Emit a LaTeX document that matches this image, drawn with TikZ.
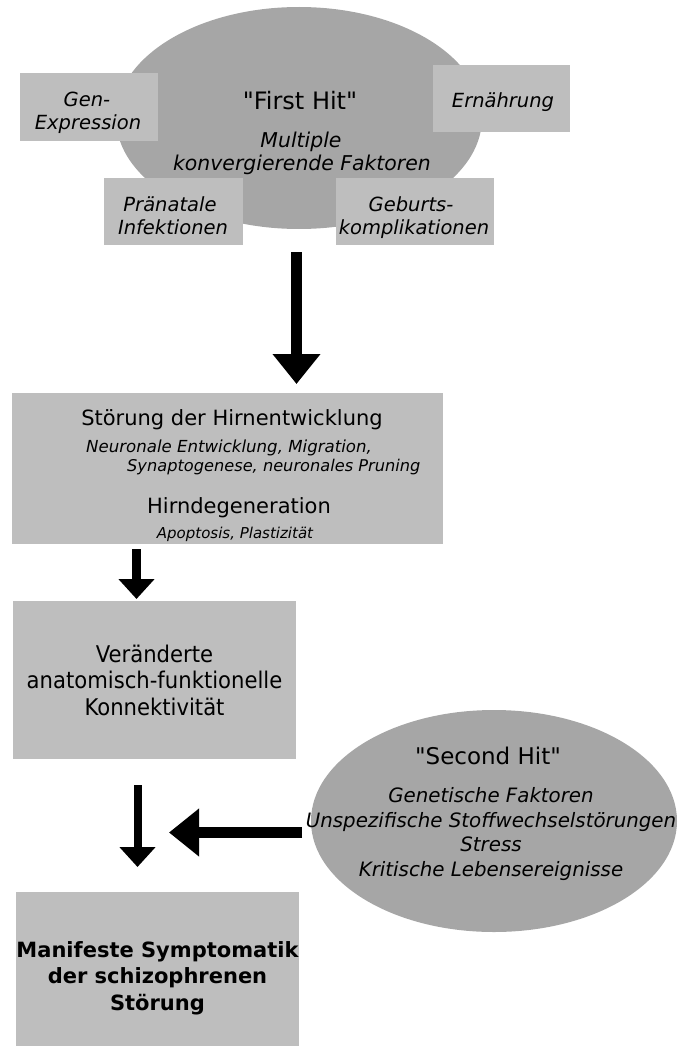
\documentclass[tikz,border=0pt]{standalone}
\usepackage{fontspec}
\setmainfont{DejaVu Sans}
\newfontfamily\narrowfont[FakeStretch=0.92]{DejaVu Sans}
\usetikzlibrary{arrows.meta,shapes.geometric}
\definecolor{boxgray}{RGB}{190,190,190}
\definecolor{hitgray}{RGB}{166,166,166}

\begin{document}
\begin{tikzpicture}[x=1pt, y=-1pt,
  box/.style={fill=boxgray, inner sep=0pt, align=center},
  hit/.style={ellipse, fill=hitgray, inner sep=0pt},
  txt/.style={inner sep=0pt, anchor=base},
  factor/.style={txt, font=\fontsize{19.5}{23}\selectfont\itshape},
  bigarrow/.style={line width=11pt, -{Triangle[length=30pt, width=46pt]}},
  smallarrow/.style={line width=9pt, -{Triangle[length=20pt, width=35pt]}}]
\useasboundingbox (0,0) rectangle (677,1046);
% first hit
\node[hit, minimum width=366pt, minimum height=222pt] (first) at (299,118) {};
\node[box, minimum width=138pt, minimum height=68pt] (genexpr)   at (89,107)      {};
\node[box, minimum width=137pt, minimum height=67pt] (nutrition) at (501.5,98.5)  {};
\node[box, minimum width=139pt, minimum height=67pt] (prenatal)  at (173.5,211.5) {};
\node[box, minimum width=158pt, minimum height=67pt] (birth)     at (415,211.5)   {};
\node[factor] (genexpr1)   at (87,107)  {Gen-};
\node[factor] (genexpr2)   at (88,130)  {Expression};
\node[factor] (nutrition1) at (503,108) {Ernährung};
\node[factor] (prenatal1)  at (170,211) {Pränatale};
\node[factor] (prenatal2)  at (173,234) {Infektionen};
\node[factor] (birth1)     at (411,211) {Geburts-};
\node[factor] (birth2)     at (414,234) {komplikationen};
\node[txt, font=\fontsize{24}{28}\selectfont] (firsttitle) at (300,110) {\textquotedbl First Hit\textquotedbl};
\node[txt, font=\fontsize{20.4}{24}\selectfont\itshape] (firstsub1) at (301,147) {Multiple};
\node[txt, font=\fontsize{20.4}{24}\selectfont\itshape] (firstsub2) at (302,170) {konvergierende Faktoren};
% development
\node[box, minimum width=431pt, minimum height=151pt] (develop) at (227.5,468.5) {};
\node[txt, font=\fontsize{21}{25}\selectfont] (develtitle) at (232,425) {Störung der Hirnentwicklung};
\node[txt, anchor=base west, font=\fontsize{16.6}{20}\selectfont\itshape] (develsub1) at (86,452) {Neuronale Entwicklung, Migration,};
\node[txt, anchor=base west, font=\fontsize{16.2}{20}\selectfont\itshape] (develsub2) at (127,471) {Synaptogenese, neuronales Pruning};
\node[txt, font=\fontsize{21}{25}\selectfont] (degtitle) at (239,513) {Hirndegeneration};
\node[txt, font=\fontsize{15}{18}\selectfont\itshape] (degsub) at (235,538) {Apoptosis, Plastizität};
% connectivity and symptoms
\node[box, minimum width=283pt, minimum height=158pt, font=\narrowfont\fontsize{23}{26.5}\selectfont] (connect) at (154.5,680)
  {Veränderte\\anatomisch-funktionelle\\Konnektivität};
\node[box, minimum width=283pt, minimum height=172pt, font=\fontsize{21}{26.5}\selectfont\bfseries] (symptom) at (157.5,978)
  {Manifeste Symptomatik\\der schizophrenen\\Störung};
% second hit
\node[hit, minimum width=366pt, minimum height=222pt] (second) at (494,821) {};
\node[txt, font=\fontsize{23}{27}\selectfont] (secondtitle) at (488,764) {\textquotedbl Second Hit\textquotedbl};
\node[txt, font=\fontsize{19.8}{24}\selectfont\itshape] (secondsub1) at (491,802) {Genetische Faktoren};
\node[txt, font=\fontsize{19.8}{24}\selectfont\itshape] (secondsub2) at (491,827) {Unspezifische Stoffwechselstörungen};
\node[txt, font=\fontsize{19.8}{24}\selectfont\itshape] (secondsub3) at (491,851) {Stress};
\node[txt, font=\fontsize{19.8}{24}\selectfont\itshape] (secondsub4) at (491,876) {Kritische Lebensereignisse};
% arrows
\coordinate (A1) at (296.5,252);
\coordinate (B1) at (296.5,384);
\coordinate (A2) at (136.5,549);
\coordinate (B2) at (136.5,599);
\coordinate (A3) at (137.5,785);
\coordinate (B3) at (137.5,867);
\coordinate (A4) at (302,832.5);
\coordinate (B4) at (169,832.5);
\draw[bigarrow]   (A1) -- (B1);
\draw[smallarrow] (A2) -- (B2);
\draw[smallarrow, line width=8pt] (A3) -- (B3);
\draw[bigarrow]   (A4) -- (B4);
\end{tikzpicture}
\end{document}
